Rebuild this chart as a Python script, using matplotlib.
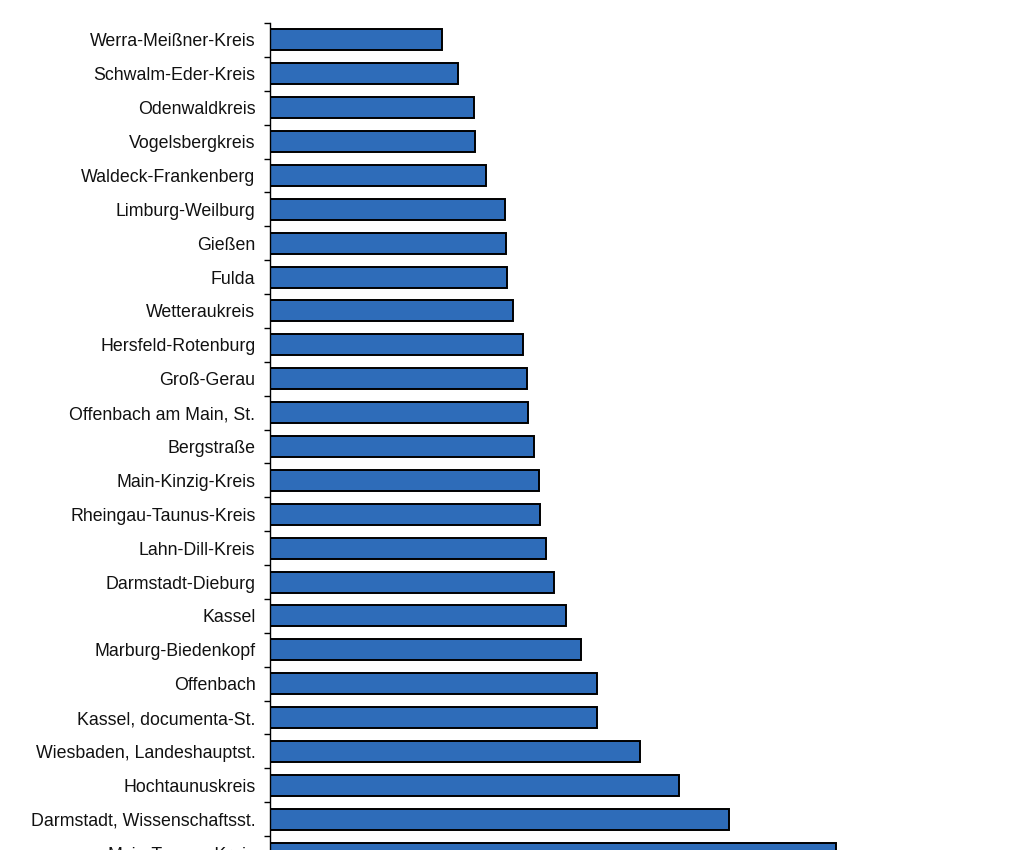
import matplotlib
matplotlib.use("Agg")
import matplotlib.pyplot as plt
import numpy as np

districts = [
    "Werra-Meißner-Kreis", "Schwalm-Eder-Kreis", "Odenwaldkreis", "Vogelsbergkreis",
    "Waldeck-Frankenberg", "Limburg-Weilburg", "Gießen", "Fulda", "Wetteraukreis",
    "Hersfeld-Rotenburg", "Groß-Gerau", "Offenbach am Main, St.", "Bergstraße",
    "Main-Kinzig-Kreis", "Rheingau-Taunus-Kreis", "Lahn-Dill-Kreis",
    "Darmstadt-Dieburg", "Kassel", "Marburg-Biedenkopf", "Offenbach",
    "Kassel, documenta-St.", "Wiesbaden, Landeshauptst.", "Hochtaunuskreis",
    "Darmstadt, Wissenschaftsst.", "Main-Taunus-Kreis",
]
values = [172, 188, 204, 205, 216, 235, 236, 237, 243, 253, 257, 258, 264,
          269, 270, 276, 284, 296, 311, 327, 327, 370, 409, 459, 566]

plt.rcParams['font.family'] = ['Liberation Sans', 'DejaVu Sans']

fig = plt.figure(figsize=(10.24, 8.5), dpi=100)
ax = fig.add_axes([270/1024, 1 - 870/850, 1 - 270/1024, (870 - 23)/850])

y = np.arange(len(districts))
ax.barh(y, values, height=0.62, color="#2E6CB9", edgecolor="black", linewidth=1.4)

ax.set_xlim(0, 754)
ax.set_ylim(len(districts) - 0.5, -0.5)
ax.set_yticks(y)
ax.set_yticklabels(districts, fontsize=12.8, color="#111111")
ax.set_yticks(np.arange(len(districts) + 1) - 0.5, minor=True)
ax.tick_params(axis='y', which='major', length=0, pad=10.5)
ax.tick_params(axis='y', which='minor', length=4, width=1, direction='out')
ax.set_xticks([])
for s in ["top", "right", "bottom"]:
    ax.spines[s].set_visible(False)
ax.spines["left"].set_linewidth(1)

fig.savefig("out.png", dpi=100)
